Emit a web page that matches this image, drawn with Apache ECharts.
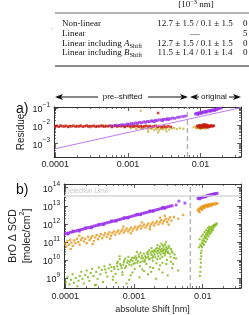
<!DOCTYPE html>
<html>
<head>
<meta charset="utf-8">
<script src="https://cdn.jsdelivr.net/npm/echarts@6.0.0/dist/echarts.min.js"></script>
<style>
html, body { margin: 0; padding: 0; background: #fff; }
#chart-1 { width: 249px; height: 315px; }
</style>
</head>
<body>
<div id="chart-1"></div>
<script>
// table rows
var methods = ['Non-linear', 'Linear', 'Linear including {i|A}{sub|Shift}', 'Linear including {i|B}{sub|Shift}'];
var shiftVals = ['12.7 ± 1.5 / 0.1 ± 1.5', '—', '12.7 ± 1.5 / 0.1 ± 1.5', '11.5 ± 1.4 / 0.1 ± 1.4'];
var lastCol = ['0', '5', '0', '0'];

var shiftLimit = 0.0066;      // pre-shifted | original
var detectionLimit = 3.5e13;

// a) residue
var residueRed = [
    [0.000100,0.0092],[0.000105,0.0098],[0.000112,0.0088],[0.000118,0.0101],[0.000125,0.0094],[0.000133,0.0090],
    [0.000140,0.0099],[0.000150,0.0087],[0.000158,0.0096],[0.000167,0.0092],[0.000178,0.0100],[0.000190,0.0089],
    [0.000200,0.0095],[0.000212,0.0091],[0.000225,0.0099],[0.000240,0.0088],[0.000255,0.0094],[0.000270,0.0101],
    [0.000285,0.0090],[0.000300,0.0096],[0.000320,0.0092],[0.000340,0.0099],[0.000360,0.0088],[0.000380,0.0095],
    [0.000400,0.0091],[0.000425,0.0100],[0.000450,0.0093],[0.000475,0.0089],[0.000500,0.0097],[0.000530,0.0092],
    [0.000560,0.0100],[0.000600,0.0088],[0.000630,0.0095],[0.000670,0.0102],[0.000710,0.0090],[0.000750,0.0097],
    [0.000800,0.0093],[0.000850,0.0099],[0.000900,0.0088],[0.000950,0.0095],[0.001000,0.0101],[0.00106,0.0091],
    [0.00112,0.0097],[0.00118,0.0087],[0.00125,0.0094],[0.00133,0.0100],[0.00140,0.0090],[0.00150,0.0096],
    [0.00158,0.0085],[0.00167,0.0093],[0.00178,0.0099],[0.00190,0.0089],[0.00200,0.0095],[0.00212,0.0084],
    [0.00225,0.0092],[0.00240,0.0098],[0.00255,0.0088],[0.00270,0.0094],[0.00290,0.0083],[0.00310,0.0091],
    [0.00330,0.0087],[0.00360,0.0093],[0.00390,0.0086],[0.0026,0.052],
    [0.0090,0.0098],[0.0093,0.0089],[0.0096,0.0105],[0.0098,0.0094],[0.0100,0.0085],[0.0102,0.0101],
    [0.0104,0.0092],[0.0106,0.0110],[0.0108,0.0088],[0.0110,0.0097],[0.0112,0.0104],[0.0114,0.0090],
    [0.0116,0.0099],[0.0118,0.0084],[0.0120,0.0095],[0.0122,0.0108],[0.0125,0.0092],[0.0128,0.0100],
    [0.0131,0.0087],[0.0134,0.0096],[0.0137,0.0103],[0.0140,0.0091],[0.0144,0.0098],[0.0148,0.0094],
    [0.0152,0.0100],[0.0099,0.0078],[0.0107,0.0081],[0.0118,0.0115],[0.0126,0.0080],[0.0111,0.0118]
];
var residueOlive = [
    [0.00015,0.0082],[0.00022,0.0105],[0.00030,0.0080],[0.00045,0.0108],[0.00060,0.0079],[0.00075,0.0110],
    [0.0009,0.0078],[0.0011,0.0072],[0.0012,0.0106],[0.0013,0.0068],[0.0014,0.0080],[0.0015,0.0074],
    [0.0016,0.0064],[0.0017,0.0078],[0.0018,0.0070],[0.0019,0.0060],[0.0020,0.0075],[0.0021,0.0066],
    [0.0022,0.0081],[0.0023,0.0058],[0.0024,0.0072],[0.0025,0.0063],[0.0026,0.0077],[0.0027,0.0055],
    [0.0028,0.0069],[0.0029,0.0080],[0.0030,0.0061],[0.0031,0.0073],[0.0033,0.0066],[0.0035,0.0078],
    [0.0037,0.0060],[0.0040,0.0070],[0.0043,0.0075],[0.0047,0.0064],[0.0052,0.0072],[0.0058,0.0068],
    [0.0019,0.0045],[0.0026,0.0042],[0.0034,0.0048],[0.0015,0.070],
    [0.0085,0.0088],[0.0087,0.0075],[0.0089,0.0095],[0.0091,0.0069],[0.0093,0.0082],[0.0095,0.0072],
    [0.0097,0.0090],[0.0100,0.0066],[0.0103,0.0078],[0.0106,0.0071],[0.0110,0.0075],[0.0115,0.0068],
    [0.0121,0.0073],[0.0080,0.0081]
];
var residuePurple = [
    [0.00060,0.0098],[0.00068,0.0106],[0.00075,0.0104],[0.00082,0.0114],[0.00090,0.0112],[0.00098,0.0125],
    [0.00105,0.0121],[0.00112,0.0134],[0.00120,0.0129],[0.00128,0.0143],[0.00136,0.0138],[0.00145,0.0153],
    [0.00155,0.0147],[0.00165,0.0164],[0.00175,0.0158],[0.00186,0.0175],[0.00198,0.0169],[0.0021,0.0188],
    [0.0022,0.0182],[0.0024,0.0200],[0.0025,0.0194],[0.0027,0.0215],[0.0029,0.0210],[0.0031,0.0232],
    [0.0033,0.0226],[0.0035,0.0250],[0.0038,0.0244],[0.0041,0.0270],[0.0044,0.0262],[0.0048,0.0295],
    [0.0052,0.0310],[0.0057,0.0330],[0.0062,0.0350],[0.0023,0.0170],[0.0030,0.0195],[0.0036,0.0220],
    [0.0085,0.046],[0.0088,0.050],[0.0091,0.048],[0.0094,0.053],[0.0097,0.051],[0.0100,0.056],
    [0.0104,0.054],[0.0108,0.060],[0.0112,0.058],[0.0116,0.064],[0.0120,0.062],[0.0125,0.068],
    [0.0130,0.066],[0.0135,0.073],[0.0140,0.071],[0.0146,0.078],[0.0152,0.076],[0.0158,0.083],
    [0.0165,0.081],[0.0172,0.089],[0.0180,0.093],[0.0188,0.098],[0.0092,0.043],[0.0102,0.049],
    [0.0118,0.057],[0.0138,0.066],[0.0155,0.072]
];
var residueLine = [[0.0001,0.0005],[0.001,0.0041],[0.01,0.033],[0.036,0.105]];

// b) BrO dSCD
var scdPurple = [
    [0.000100,2.8e11],[0.000106,3e11],[0.000112,3.1e11],[0.000119,3.4e11],[0.000126,3.5e11],[0.000133,3.8e11],
    [0.000141,3.9e11],[0.000150,4.3e11],[0.000159,4.4e11],[0.000168,4.8e11],[0.000178,4.9e11],[0.000189,5.4e11],
    [0.000200,5.6e11],[0.000212,6e11],[0.000225,6.2e11],[0.000238,6.8e11],[0.000252,7e11],[0.000267,7.6e11],
    [0.000283,7.9e11],[0.000300,8.5e11],[0.000318,8.8e11],[0.000337,9.6e11],[0.000357,9.9e11],[0.000378,1.07e12],
    [0.000400,1.11e12],[0.000424,1.2e12],[0.000449,1.25e12],[0.000476,1.35e12],[0.000504,1.4e12],[0.000534,1.51e12],
    [0.000566,1.58e12],[0.000600,1.7e12],[0.000636,1.77e12],[0.000674,1.91e12],[0.000714,1.99e12],[0.000756,2.14e12],
    [0.000801,2.23e12],[0.000849,2.4e12],[0.000900,2.5e12],[0.000954,2.7e12],[0.00101,2.82e12],[0.00107,3.03e12],
    [0.00113,3.16e12],[0.00120,3.4e12],[0.00127,3.55e12],[0.00135,3.82e12],[0.00143,3.99e12],[0.00151,4.28e12],
    [0.00160,4.47e12],[0.00170,4.8e12],[0.00180,5e12],[0.00190,5.4e12],[0.00202,5.6e12],[0.00214,6.06e12],
    [0.00226,6.3e12],[0.00240,6.8e12],[0.00254,7.1e12],[0.00269,7.6e12],[0.00285,7.95e12],[0.00302,8.5e12],
    [0.00320,8.9e12],[0.00339,9.6e12],[0.00359,1e13],
    [0.00011,2.7e11],[0.00016,3.9e11],[0.00024,5.9e11],[0.00036,8.9e11],[0.00055,1.4e12],[0.00082,2.1e12],
    [0.00125,3.2e12],[0.0019,4.9e12],[0.0028,7.2e12],[0.00013,4e11],[0.0002,6.1e11],[0.00031,9.3e11],
    [0.00047,1.45e12],[0.00072,2.2e12],[0.0011,3.4e12],[0.0017,5.2e12],[0.0026,8e12],
    [0.0041,1.1e13],[0.0045,1.8e13],[0.0055,1.4e13],
    [0.0085,2.6e13],[0.0088,2.5e13],[0.0091,2.8e13],[0.0094,2.7e13],[0.0097,2.9e13],[0.0100,3.0e13],
    [0.0104,3.1e13],[0.0108,3.3e13],[0.0112,3.4e13],[0.0116,3.6e13],[0.0120,3.7e13],[0.0125,3.9e13],
    [0.0130,4.0e13],[0.0135,4.2e13],[0.0140,4.3e13],[0.0145,4.5e13],[0.0150,4.6e13],[0.0156,4.8e13],
    [0.0162,4.9e13],[0.0090,2.4e13],[0.0110,3.1e13],[0.0128,3.6e13],[0.0148,4.2e13]
];
var scdOrange = [
    [0.000100,8e10],[0.000104,5.5e10],[0.000108,1.1e11],[0.000113,7e10],[0.000118,1.3e11],[0.000123,9e10],
    [0.000129,6e10],[0.000135,1.2e11],[0.000141,8.5e10],[0.000148,1.5e11],[0.000155,1e11],[0.000162,7e10],
    [0.000170,1.3e11],[0.000178,1.7e11],[0.000187,1.05e11],[0.000196,1.45e11],[0.000205,8.5e10],[0.000215,1.9e11],
    [0.000226,1.25e11],[0.000237,1.6e11],[0.000248,2.1e11],[0.000260,1.1e11],[0.000273,1.75e11],[0.000286,2.4e11],
    [0.000300,1.4e11],[0.000315,2e11],[0.000330,2.7e11],[0.000346,1.6e11],[0.000363,2.3e11],[0.000381,3e11],
    [0.000400,1.9e11],[0.000420,2.6e11],[0.000440,3.4e11],[0.000462,2.2e11],[0.000485,3e11],[0.000508,3.8e11],
    [0.000533,2.5e11],[0.000560,3.4e11],[0.000587,4.3e11],[0.000616,2.9e11],[0.000647,3.8e11],[0.000679,4.9e11],
    [0.000712,3.3e11],[0.000747,4.3e11],[0.000784,5.5e11],[0.000823,3.8e11],[0.000864,4.9e11],[0.000907,6.2e11],
    [0.000951,4.2e11],[0.000998,5.5e11],[0.00105,7e11],[0.00110,4.8e11],[0.00115,6.3e11],[0.00121,8e11],
    [0.00127,5.4e11],[0.00133,7.2e11],[0.00140,9.2e11],[0.00147,6.2e11],[0.00154,8.2e11],[0.00162,1.05e12],
    [0.00170,7e11],[0.00178,9.4e11],[0.00187,1.2e12],[0.00196,8e11],[0.00206,1.08e12],[0.00216,1.38e12],
    [0.00227,9.2e11],[0.00238,1.24e12],[0.00250,1.6e12],[0.00262,1.05e12],[0.00275,1.45e12],[0.00289,1.9e12],
    [0.00303,1.25e12],[0.00318,1.75e12],[0.00334,2.3e12],[0.00350,1.5e12],
    [0.00012,4e10],[0.00016,2.2e11],[0.00025,7.5e10],[0.00045,1.5e11],[0.0007,7e11],[0.0009,3e11],
    [0.0013,1.2e12],[0.0017,5e11],[0.0024,2.2e12],[0.0028,2.8e12],[0.0032,9e11],[0.0038,2.4e12],
    [0.0044,1.9e12],[0.0052,3.1e12],
    [0.0085,6e12],[0.0087,5e12],[0.0089,7e12],[0.0091,6.3e12],[0.0093,8e12],[0.0095,7e12],
    [0.0097,8.8e12],[0.0099,7.6e12],[0.0101,9.5e12],[0.0103,8.3e12],[0.0105,1.02e13],[0.0108,9e12],
    [0.0111,1.1e13],[0.0114,9.6e12],[0.0117,1.15e13],[0.0120,1e13],[0.0123,1.2e13],[0.0127,1.05e13],
    [0.0131,1.25e13],[0.0135,1.1e13],[0.0139,1.3e13],[0.0143,1.15e13],[0.0148,1.35e13],[0.0153,1.2e13],
    [0.0158,1.4e13],[0.0163,1.3e13],[0.0090,4.5e12],[0.0098,6e12],[0.0106,7.5e12],[0.0118,8.5e12],[0.0130,9.5e12]
];
var scdGreen = [
    [0.000102,6e8],[0.000108,1.1e9],[0.000115,4.5e8],[0.000121,8e8],[0.000128,1.6e9],[0.000134,5.5e8],
    [0.000142,1e9],[0.000150,3.5e8],[0.000156,7e8],[0.000163,1.3e9],[0.000171,2.2e9],[0.000178,9e8],
    [0.000186,5e8],[0.000195,1.5e9],[0.000205,2.6e9],[0.000214,1.1e9],[0.000224,7e8],[0.000235,1.9e9],
    [0.000246,3.2e9],[0.000258,1.3e9],[0.000270,4e8],[0.000282,2.2e9],[0.000295,9e8],[0.000310,3.8e9],
    [0.000325,1.6e9],[0.000340,2.8e9],[0.000355,6e8],[0.000372,4.5e9],[0.000390,2e9],[0.000408,1.2e9],
    [0.000428,3.4e9],[0.000448,5.5e9],[0.000470,2.4e9],[0.000492,8e8],[0.000515,4.1e9],[0.000540,1.7e9],
    [0.000565,6.5e9],[0.000592,3e9],[0.000620,1.1e10],[0.000650,4.8e9],[0.000680,2.1e9],[0.000712,7.5e9],
    [0.000745,3.6e9],[0.000780,5e8],[0.000815,9e9],[0.000855,5.5e9],[0.000895,1.4e9],[0.000935,1.3e10],
    [0.000980,6.2e9],[0.001025,3.2e9],[0.00107,1.05e10],[0.00112,7e9],[0.00117,2e10],[0.00122,4.5e9],
    [0.00128,1.2e10],[0.00134,8.5e9],[0.00140,2.4e9],[0.00146,1.6e10],[0.00152,6e9],[0.00158,2.8e10],
    [0.00165,1.1e10],[0.00172,4e9],[0.00180,1.9e10],[0.00188,9e9],[0.00196,3.3e10],[0.00204,1.4e10],
    [0.00212,6.5e9],[0.00220,2.3e10],[0.00230,4.2e10],[0.00240,1.2e10],[0.00250,2.9e10],[0.00260,7e9],
    [0.00270,5.5e10],[0.00280,1.8e10],[0.00290,3.6e10],[0.00300,1e10],[0.00312,2.5e10],[0.00325,4.8e10],
    [0.00340,1.5e10],[0.00355,3e10],[0.00370,6e9],[0.00390,2e10],[0.00410,1.2e10],[0.00440,2.6e9],
    [0.00028,4.2e8],[0.00055,5.5e8],[0.00085,8e8],[0.0012,1.1e9],[0.0016,1.6e9],[0.0021,9e8],
    [0.0026,2e9],[0.0031,1.4e9],[0.0019,3.6e9],[0.0024,5e9],[0.0036,3.5e9],
    [0.00062,1.6e10],[0.0011,2.8e10],[0.0018,4.5e10],[0.0025,8e10],[0.0029,9.5e10],[0.0022,6.5e10],
    [0.00105,1.6e10],[0.00125,2.5e10],[0.00143,1e10],[0.00162,2e10],[0.00185,1.3e10],[0.00205,3.8e10],
    [0.00225,1.6e10],[0.00245,2e10],[0.00265,3.2e10],[0.00285,2.3e10],[0.00305,4.2e10],[0.0009,1e10],
    [0.00075,1.2e10],[0.0007,5.5e9],[0.00058,8e9],[0.00047,4e9],[0.00038,3e9],
    [0.00052,3.2e9],[0.00057,4.5e9],[0.00063,6e9],[0.00066,3.5e9],[0.00072,9.5e9],[0.00077,4.5e9],
    [0.00080,7e9],[0.00083,1.5e10],[0.00087,8e9],[0.00092,5e9],[0.00096,9e9],[0.00100,1.3e10],
    [0.00103,6.5e9],[0.00109,1.3e10],[0.00114,9e9],[0.00119,1.5e10],[0.00124,7.5e9],[0.00130,1.7e10],
    [0.00136,1.3e10],[0.00139,2.2e10],[0.00144,8e9],[0.00149,1.3e10],[0.00155,2.3e10],[0.00160,1.5e10],
    [0.00167,3.4e10],[0.00170,1.2e10],[0.00175,2.5e10],[0.00183,3e10],[0.00190,1.6e10],[0.00193,2.6e10],
    [0.00200,2e10],[0.00208,2.9e10],[0.00215,4.5e10],[0.00218,1.1e10],[0.00223,3.2e10],[0.00235,2.6e10],
    [0.00238,5.5e10],[0.00243,3.6e10],[0.00255,4.2e10],[0.00258,1.5e10],[0.00262,6.5e10],[0.00268,2.4e10],
    [0.00275,3.9e10],[0.00283,7e10],[0.00288,2.9e10],[0.00295,5e10],[0.00308,3e10],[0.00318,6e10],
    [0.00330,2.2e10],[0.00345,4e10],[0.00362,2.5e10],[0.00380,1.3e10],[0.0005,1.2e9],[0.00068,1.5e9],
    [0.00095,2e9],[0.00132,3e9],[0.00178,2.2e9],[0.00232,3e9],[0.00295,6e9],[0.00345,8e9],
    [0.0092,2.2e9],[0.0093,4e9],[0.0094,7e9],[0.0093,1.1e10],[0.0095,1.6e10],[0.0094,2.4e10],
    [0.0096,3.3e10],[0.0091,1.3e9],
    [0.0088,5e10],[0.0092,7e10],[0.0095,6e10],[0.0097,9e10],[0.0099,1.2e11],[0.0101,8e10],
    [0.0103,1.5e11],[0.0105,1.1e11],[0.0107,2e11],[0.0109,1.6e11],[0.0111,2.6e11],[0.0113,1.9e11],
    [0.0115,3.2e11],[0.0117,2.4e11],[0.0119,4e11],[0.0121,3e11],[0.0123,4.8e11],[0.0125,3.6e11],
    [0.0127,5.5e11],[0.0130,4.3e11],[0.0133,6.5e11],[0.0136,5e11],[0.0139,7.5e11],[0.0142,6e11],
    [0.0145,8.5e11],[0.0148,7e11],[0.0152,9.5e11],[0.0156,8.5e11],[0.0160,1.05e12],[0.0098,5e10],
    [0.0104,7e10],[0.0110,1e11],[0.0116,1.4e11],[0.0122,2e11],[0.0128,2.8e11],[0.0134,3.5e11],
    [0.0140,4.5e11],[0.0100,2.5e11],[0.0106,3.5e11],[0.0112,4.5e11],[0.0118,6e11],[0.0124,7e11],
    [0.0090,1.4e11],[0.0096,2e11]
];

var dom = document.getElementById('chart-1');
var myChart = echarts.init(dom, null, {renderer: 'canvas'});

var sans = 'Liberation Sans';
var serif = 'Liberation Serif';
var ink = '#222';

var xRange = [0.000096, 0.036];
var yRangeA = [1.7e-4, 0.114];
var yRangeB = [2.8e8, 1.6e14];

var supRich = {
    b: {fontSize: 9, fontFamily: sans, color: ink, lineHeight: 13, verticalAlign: 'bottom'},
    s: {fontSize: 6.5, fontFamily: sans, color: ink, lineHeight: 13, verticalAlign: 'top'}
};

// only decades get a label; the axis ends stay blank
function isDecade(v) {
    var l = Math.log(v) / Math.LN10;
    return Math.abs(l - Math.round(l)) < 0.01;
}
function powLabel(v) {
    if (!isDecade(v)) return '';
    var e = Math.round(Math.log(v) / Math.LN10);
    return '{b|10}{s|' + (e < 0 ? '\u2212' + (-e) : e) + '}';
}

function logAxis(grid, pos, range, labels, extra) {
    var ax = {
        type: 'log',
        logBase: 10,
        gridIndex: grid,
        position: pos,
        min: range[0],
        max: range[1],
        nameMoveOverlap: false,
        axisLine: {show: true, lineStyle: {color: '#333', width: 1}},
        axisTick: {show: true, inside: true, length: 4, lineStyle: {color: '#333', width: 0.8}},
        minorTick: {show: true, splitNumber: 9, length: 2, lineStyle: {color: '#333', width: 0.7}},
        splitLine: {show: false},
        minorSplitLine: {show: false},
        axisLabel: {show: false}
    };
    if (labels) {
        ax.axisLabel = labels;
    }
    for (var k in extra) ax[k] = extra[k];
    return ax;
}

var xLabels = function (m) {
    return {
        show: true, margin: m, fontSize: 9, fontFamily: sans, color: ink,
        align: 'center', alignMinLabel: 'center', alignMaxLabel: 'center',
        formatter: function (v) { return isDecade(v) ? String(+(+v).toPrecision(6)) : ''; }
    };
};
var yLabels = {
    show: true, margin: 4, showMinLabel: false, showMaxLabel: false,
    formatter: powLabel, rich: supRich
};

function scatter(data, xi, yi, color, size) {
    return {
        type: 'scatter', xAxisIndex: xi, yAxisIndex: yi,
        symbol: 'rect', symbolSize: size, silent: true,
        itemStyle: {color: color},
        data: data
    };
}
function guide(data, xi, yi, color, type) {
    return {
        type: 'line', xAxisIndex: xi, yAxisIndex: yi, silent: true,
        showSymbol: false, symbol: 'none',
        lineStyle: {color: color, width: 1.5, type: type},
        data: data
    };
}

var purple = '#9a30ec', orange = '#e69512', green = '#74b000';
var red = '#c41a12', olive = '#c4a21c';

var series = [
    guide([[shiftLimit, yRangeA[0]], [shiftLimit, yRangeA[1]]], 0, 0, '#b4b4b4', [5, 3]),
    guide([[shiftLimit, yRangeB[0]], [shiftLimit, yRangeB[1]]], 1, 1, '#b4b4b4', [5, 3]),
    guide([[xRange[0], detectionLimit], [xRange[1], detectionLimit]], 1, 1, '#d6d6d6', 'solid'),
    scatter(residueOlive, 0, 0, olive, 2),
    scatter(residueRed, 0, 0, red, 2.6),
    {
        type: 'line', xAxisIndex: 0, yAxisIndex: 0, silent: true,
        showSymbol: false, symbol: 'none',
        lineStyle: {color: '#c37af2', width: 1},
        data: residueLine
    },
    scatter(residuePurple, 0, 0, purple, 2.8),
    scatter(scdGreen, 1, 1, green, 2),
    scatter(scdOrange, 1, 1, orange, 2.3),
    scatter(scdPurple, 1, 1, purple, 2.8)
];

function arrowHead(x, y, dir) {
    return {
        type: 'polygon', silent: true,
        shape: {points: [[x, y], [x - 8 * dir, y - 3], [x - 6 * dir, y], [x - 8 * dir, y + 3]]},
        style: {fill: '#111'}
    };
}
function hLine(x1, x2, y, w, c) {
    return {
        type: 'line', silent: true,
        shape: {x1: x1, y1: y, x2: x2, y2: y},
        style: {stroke: c || '#111', lineWidth: w || 1}
    };
}
function txt(t, x, y, size, family, align, extra) {
    var el = {
        type: 'text', silent: true, x: x, y: y,
        style: {text: t, fontSize: size, fontFamily: family, fill: '#111', align: align, verticalAlign: 'middle'}
    };
    for (var k in extra) el.style[k] = extra[k];
    return el;
}

var tableRich = {
    i: {fontSize: 9, fontFamily: serif, fontStyle: 'italic', fill: '#111', lineHeight: 12, verticalAlign: 'middle'},
    sub: {fontSize: 6.5, fontFamily: serif, fill: '#111', lineHeight: 12, verticalAlign: 'bottom'},
    sup: {fontSize: 6.5, fontFamily: serif, fill: '#111', lineHeight: 12, verticalAlign: 'top'}
};

var graphics = [];
// table
graphics.push(txt('[10{sup|\u22123} nm]', 196, 5, 9, serif, 'center', {rich: tableRich}));
graphics.push(hLine(55, 249, 13, 0.8, '#444'));
var rowY = [24, 34, 43.5, 53];
methods.forEach(function (m, i) {
    graphics.push(txt(m, 62, rowY[i], 9, serif, 'left', {rich: tableRich}));
    graphics.push(txt(shiftVals[i], 195, rowY[i], 9, serif, 'center'));
    graphics.push(txt(lastCol[i], 243, rowY[i], 9, serif, 'left'));
});
graphics.push(hLine(55, 249, 66, 1.4, '#666'));
graphics.push(txt('.', 51, 27, 9, serif, 'left', {fill: '#888'}));
// pre-shifted / original arrows
graphics.push(arrowHead(55, 97, -1), hLine(61, 98, 97), txt('pre\u2013shifted', 122.5, 96.5, 8, sans, 'center'));
graphics.push(hLine(148, 182, 97), arrowHead(188, 97, 1));
graphics.push(arrowHead(190, 97, -1), hLine(196, 199, 97), txt('original', 214, 96.5, 8, sans, 'center'));
graphics.push(hLine(229, 236, 97), arrowHead(241, 97, 1));
// panel letters
graphics.push(txt('a)', 16, 109, 14, sans, 'left'));
graphics.push(txt('b)', 16, 190, 14, sans, 'left'));
graphics.push(txt('Detection Limit', 65, 191.5, 6.5, sans, 'left', {fill: '#c8c8c8'}));

option = {
    backgroundColor: '#fff',
    animation: false,
    grid: [
        {left: 54, top: 107, width: 187, height: 50, show: false},
        {left: 54, top: 184, width: 187, height: 110, show: false}
    ],
    xAxis: [
        logAxis(0, 'bottom', xRange, xLabels(3)),
        logAxis(1, 'bottom', xRange, xLabels(4), {
            name: 'absolute Shift [nm]', nameLocation: 'middle', nameGap: 17,
            nameTextStyle: {fontSize: 9, fontFamily: sans, color: ink}
        }),
        logAxis(0, 'top', xRange, null),
        logAxis(1, 'top', xRange, null)
    ],
    yAxis: [
        logAxis(0, 'left', yRangeA, yLabels, {
            name: 'Residue', nameLocation: 'middle', nameGap: 28,
            nameTextStyle: {fontSize: 10, fontFamily: sans, color: ink}
        }),
        logAxis(1, 'left', yRangeB, yLabels, {
            name: '{t|BrO \u0394 SCD}\n{t|[molec/cm}{u|2}{t|]}', nameLocation: 'middle', nameGap: 31,
            nameTextStyle: {
                rich: {
                    t: {fontSize: 10.5, fontFamily: sans, color: ink, lineHeight: 14, verticalAlign: 'bottom'},
                    u: {fontSize: 7, fontFamily: sans, color: ink, lineHeight: 14, verticalAlign: 'top'}
                }
            }
        }),
        logAxis(0, 'right', yRangeA, null),
        logAxis(1, 'right', yRangeB, null)
    ],
    graphic: graphics,
    series: series
};
if (option && typeof option === 'object') {
    myChart.setOption(option, true);
}
</script>
</body>
</html>
